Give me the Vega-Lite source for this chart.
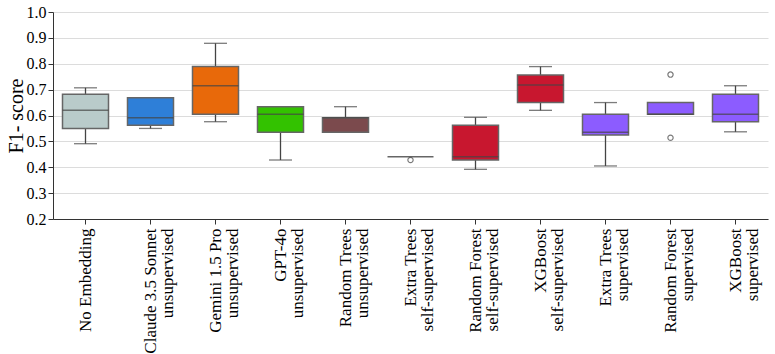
{
  "$schema": "https://vega.github.io/schema/vega-lite/v6.json",
  "width": 715,
  "height": 207,
  "autosize": {"type": "none"},
  "padding": {"left": 53, "top": 12, "right": 7, "bottom": 135},
  "background": "white",
  "config": {
    "font": "Liberation Serif",
    "view": {"stroke": null},
    "axis": {"labelFont": "Liberation Serif", "titleFont": "Liberation Serif", "labelColor": "black", "titleColor": "black", "domainColor": "#333", "tickColor": "#333"}
  },
  "datasets": {
    "boxes": [
      {"name": "No Embedding", "lower": 0.491, "q1": 0.550, "median": 0.620, "q3": 0.682, "upper": 0.707},
      {"name": "Claude 3.5 Sonnet|unsupervised", "lower": 0.550, "q1": 0.562, "median": 0.591, "q3": 0.669, "upper": 0.669},
      {"name": "Gemini 1.5 Pro|unsupervised", "lower": 0.576, "q1": 0.605, "median": 0.715, "q3": 0.789, "upper": 0.879},
      {"name": "GPT-4o|unsupervised", "lower": 0.428, "q1": 0.535, "median": 0.605, "q3": 0.634, "upper": 0.634},
      {"name": "Random Trees|unsupervised", "lower": 0.535, "q1": 0.535, "median": 0.591, "q3": 0.591, "upper": 0.634},
      {"name": "Extra Trees|self-supervised", "lower": 0.441, "q1": 0.441, "median": 0.441, "q3": 0.441, "upper": 0.441},
      {"name": "Random Forest|self-supervised", "lower": 0.392, "q1": 0.428, "median": 0.441, "q3": 0.562, "upper": 0.593},
      {"name": "XGBoost|self-supervised", "lower": 0.620, "q1": 0.650, "median": 0.718, "q3": 0.757, "upper": 0.789},
      {"name": "Extra Trees|supervised", "lower": 0.405, "q1": 0.525, "median": 0.535, "q3": 0.605, "upper": 0.650},
      {"name": "Random Forest|supervised", "lower": 0.605, "q1": 0.605, "median": 0.605, "q3": 0.650, "upper": 0.650},
      {"name": "XGBoost|supervised", "lower": 0.537, "q1": 0.576, "median": 0.605, "q3": 0.682, "upper": 0.715}
    ],
    "outliers": [
      {"name": "Extra Trees|self-supervised", "value": 0.428},
      {"name": "Random Forest|supervised", "value": 0.758},
      {"name": "Random Forest|supervised", "value": 0.514}
    ]
  },
  "layer": [
    {
      "data": {"name": "boxes"},
      "mark": {"type": "rule", "color": "#444", "strokeWidth": 1.3},
      "encoding": {
        "x": {
          "field": "name", "type": "nominal", "sort": null,
          "scale": {"domain": ["No Embedding", "Claude 3.5 Sonnet|unsupervised", "Gemini 1.5 Pro|unsupervised", "GPT-4o|unsupervised", "Random Trees|unsupervised", "Extra Trees|self-supervised", "Random Forest|self-supervised", "XGBoost|self-supervised", "Extra Trees|supervised", "Random Forest|supervised", "XGBoost|supervised"], "paddingInner": 0, "paddingOuter": 0},
          "axis": {"title": null, "labelAngle": -90, "labelFontSize": 17, "labelLineHeight": 17, "labelExpr": "split(datum.value, '|')", "labelPadding": 4, "labelOverlap": false, "tickSize": 5, "grid": false}
        },
        "y": {"field": "lower", "type": "quantitative", "scale": {"domain": [0.2, 1.0], "nice": false},
          "axis": {"title": "F1- score", "titleFontSize": 20, "titleFontWeight": "normal", "labelFontSize": 16, "format": ".1f", "tickCount": 8, "labelOverlap": false, "gridColor": "#dcdcdc", "tickSize": 5, "titlePadding": 0, "labelPadding": 2}},
        "y2": {"field": "upper"}
      }
    },
    {
      "data": {"name": "boxes"},
      "mark": {"type": "bar", "size": 46, "stroke": "#666", "strokeWidth": 1.5},
      "encoding": {
        "x": {"field": "name", "type": "nominal", "sort": null},
        "y": {"field": "q1", "type": "quantitative"},
        "y2": {"field": "q3"},
        "fill": {"field": "name", "type": "nominal", "legend": null,
          "scale": {"domain": ["No Embedding", "Claude 3.5 Sonnet|unsupervised", "Gemini 1.5 Pro|unsupervised", "GPT-4o|unsupervised", "Random Trees|unsupervised", "Extra Trees|self-supervised", "Random Forest|self-supervised", "XGBoost|self-supervised", "Extra Trees|supervised", "Random Forest|supervised", "XGBoost|supervised"],
            "range": ["#b9cbca", "#2e7fd8", "#e8690a", "#33c200", "#7b4a4d", "#999999", "#c8172f", "#c8172f", "#8c5cff", "#8c5cff", "#8c5cff"]}}
      }
    },
    {
      "data": {"name": "boxes"},
      "transform": [{"filter": "datum.q3 > datum.q1"}],
      "mark": {"type": "tick", "size": 46, "thickness": 1.5, "color": "#444"},
      "encoding": {"x": {"field": "name", "type": "nominal", "sort": null}, "y": {"field": "median", "type": "quantitative"}}
    },
    {
      "data": {"name": "boxes"},
      "transform": [{"filter": "datum.lower < datum.q1"}],
      "mark": {"type": "tick", "size": 23, "thickness": 1.3, "color": "#444"},
      "encoding": {"x": {"field": "name", "type": "nominal", "sort": null}, "y": {"field": "lower", "type": "quantitative"}}
    },
    {
      "data": {"name": "boxes"},
      "transform": [{"filter": "datum.upper > datum.q3"}],
      "mark": {"type": "tick", "size": 23, "thickness": 1.3, "color": "#444"},
      "encoding": {"x": {"field": "name", "type": "nominal", "sort": null}, "y": {"field": "upper", "type": "quantitative"}}
    },
    {
      "data": {"name": "outliers"},
      "mark": {"type": "point", "shape": "circle", "size": 28, "filled": false, "color": "#444", "strokeWidth": 1.2},
      "encoding": {"x": {"field": "name", "type": "nominal", "sort": null}, "y": {"field": "value", "type": "quantitative"}}
    }
  ]
}
